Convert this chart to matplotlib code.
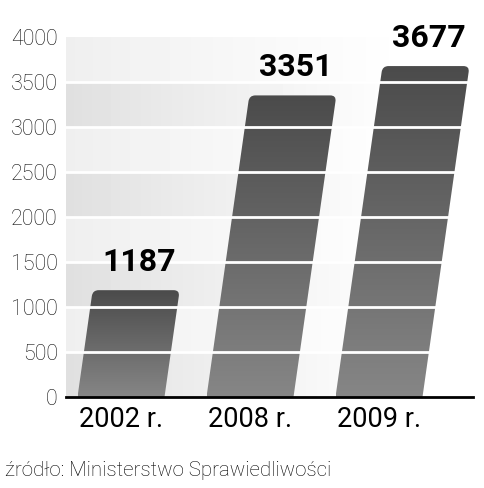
import numpy as np
import matplotlib
matplotlib.use('Agg')
import matplotlib.pyplot as plt
from matplotlib.path import Path
from matplotlib.patches import PathPatch
from matplotlib.colors import LinearSegmentedColormap

# ---- data ----
categories = ['2002 r.', '2008 r.', '2009 r.']
values = [1187, 3351, 3677]
yticks = [0, 500, 1000, 1500, 2000, 2500, 3000, 3500, 4000]
source = 'źródło: Ministerstwo Sprawiedliwości'

# ---- layout ----
W, H = 484, 488
fig = plt.figure(figsize=(W / 100, H / 100), dpi=100)
L_PX, R_PX, B_PX, T_PX = 66, 473, 397, 37
ax = fig.add_axes([L_PX / W, (H - B_PX) / H, (R_PX - L_PX) / W, (B_PX - T_PX) / H])
STEP_PX = 129.0
FIRST_PX = 121.0
ax.set_xlim((L_PX - FIRST_PX) / STEP_PX, (R_PX - FIRST_PX) / STEP_PX)
ymax = 4000
ax.set_ylim(0, ymax)
px_per_val = (B_PX - T_PX) / ymax
slope = 0.142  # horizontal px per vertical px
skew = slope * px_per_val / STEP_PX  # data-x per value unit
bar_w = 87 / STEP_PX
rx = 6 / STEP_PX
ry = 6 / px_per_val

# background bands with horizontal fade to white
ncols = 300
t = np.linspace(0, 1, ncols)
fade = np.clip(t / 0.85, 0, 1) ** 0.9
rows = []
for k in range(len(yticks) - 1):
    base = 0.875 if k % 2 == 0 else 0.935
    rows.append(base + (1 - base) * fade)
bg = np.array(rows)
ax.imshow(bg, cmap='gray', vmin=0, vmax=1, aspect='auto', origin='lower',
          extent=(*ax.get_xlim(), 0, ymax), zorder=0, interpolation='nearest')

cmap = LinearSegmentedColormap.from_list('bar', ['#868686', '#4b4b4b'])
grad = np.linspace(0, 1, 256).reshape(-1, 1)
for i, v in enumerate(values):
    x0, x1 = i - bar_w / 2, i + bar_w / 2
    s = skew * v
    sr = skew * (v - ry)
    verts = [(x0, 0), (x1, 0), (x1 + sr, v - ry), (x1 + s, v), (x1 + s - rx, v),
             (x0 + s + rx, v), (x0 + s, v), (x0 + sr, v - ry), (x0, 0)]
    codes = [Path.MOVETO, Path.LINETO, Path.LINETO, Path.CURVE3, Path.CURVE3,
             Path.LINETO, Path.CURVE3, Path.CURVE3, Path.CLOSEPOLY]
    patch = PathPatch(Path(verts, codes), facecolor='none', edgecolor='none', zorder=2)
    ax.add_patch(patch)
    im = ax.imshow(grad, cmap=cmap, aspect='auto', origin='lower',
                   extent=(x0, x1 + s, 0, v), zorder=2)
    im.set_clip_path(patch)
    ax.annotate(str(v), xy=(i + s, v), xytext=(2, 14), textcoords='offset points',
                ha='center', va='baseline', fontsize=23, fontweight='bold',
                family=['Roboto', 'DejaVu Sans'], color='black', zorder=5)

ax.set_xlim((L_PX - FIRST_PX) / STEP_PX, (R_PX - FIRST_PX) / STEP_PX)
ax.set_ylim(0, ymax)

for y in yticks[1:-1]:
    ax.axhline(y, color='white', lw=2, zorder=3)

for sp in ['top', 'right', 'left']:
    ax.spines[sp].set_visible(False)
ax.spines['bottom'].set_linewidth(2)
ax.spines['bottom'].set_zorder(4)

ax.set_yticks(yticks)
ax.set_yticklabels([str(y) for y in yticks])
ax.set_xticks(range(len(categories)))
ax.set_xticklabels(categories)
ax.tick_params(axis='y', length=0, pad=6, labelsize=15.5, colors='#111111')
ax.tick_params(axis='x', length=0, pad=6.5, labelsize=19.5, colors='black')
for lab in ax.get_yticklabels():
    lab.set_family(['Roboto', 'DejaVu Sans'])
    lab.set_fontweight('light')
for lab in ax.get_xticklabels():
    lab.set_family(['Roboto', 'DejaVu Sans'])

fig.text(5 / W, 1 - 470 / H, source, ha='left', va='center', fontsize=14.8,
         family=['Roboto', 'DejaVu Sans'], fontweight='light', color='#000000')

fig.savefig('out.png', dpi=100)
